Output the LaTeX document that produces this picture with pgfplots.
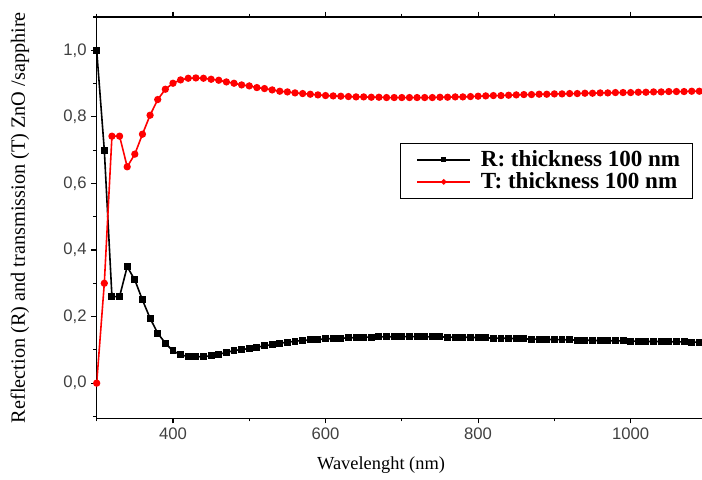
\documentclass[border=0pt]{standalone}
\usepackage{fontspec}
\setmainfont{Liberation Serif}
\setsansfont{Liberation Sans}
\usepackage{pgfplots}
\usepackage{pgfplotstable}
\pgfplotsset{compat=1.18}

% wavelength (nm), reflection R, transmission T
\pgfplotstableread{
lam R T
300 1.000 0.000
310 0.700 0.300
320 0.260 0.742
330 0.260 0.742
340 0.350 0.650
350 0.310 0.688
360 0.250 0.748
370 0.195 0.805
380 0.150 0.852
390 0.120 0.883
400 0.097 0.901
410 0.085 0.911
420 0.080 0.916
430 0.079 0.917
440 0.080 0.916
450 0.082 0.913
460 0.087 0.910
470 0.092 0.905
480 0.098 0.901
490 0.101 0.896
500 0.104 0.893
510 0.108 0.888
520 0.112 0.885
530 0.116 0.881
540 0.120 0.877
550 0.123 0.875
560 0.126 0.872
570 0.128 0.870
580 0.130 0.868
590 0.131 0.866
600 0.133 0.864
610 0.134 0.863
620 0.135 0.862
630 0.136 0.861
640 0.137 0.860
650 0.138 0.860
660 0.1385 0.859
670 0.139 0.859
680 0.1395 0.858
690 0.1395 0.858
700 0.140 0.858
710 0.140 0.858
720 0.140 0.858
730 0.1395 0.858
740 0.139 0.858
750 0.139 0.859
760 0.1385 0.859
770 0.138 0.860
780 0.138 0.860
790 0.1375 0.861
800 0.137 0.862
810 0.136 0.863
820 0.1355 0.864
830 0.135 0.864
840 0.1345 0.865
850 0.134 0.866
860 0.133 0.867
870 0.1325 0.867
880 0.132 0.868
890 0.1315 0.868
900 0.131 0.869
910 0.1305 0.869
920 0.130 0.870
930 0.1295 0.870
940 0.129 0.871
950 0.1285 0.871
960 0.128 0.872
970 0.1275 0.872
980 0.127 0.873
990 0.127 0.873
1000 0.1265 0.873
1010 0.126 0.874
1020 0.1255 0.874
1030 0.125 0.875
1040 0.125 0.875
1050 0.1245 0.876
1060 0.124 0.876
1070 0.124 0.876
1080 0.1235 0.877
1090 0.123 0.877
1100 0.123 0.877
}\spectra

\begin{document}
\begin{tikzpicture}
\begin{axis}[
  name=ax,
  scale only axis, width=457.6pt, height=300.75pt,
  xmin=300, xmax=1100, ymin=-0.105, ymax=1.1,
  xtick={400,600,800,1000}, minor xtick={300,500,700,900,1100},
  ytick={0,0.2,...,1.0}, minor ytick={-0.1,0.1,...,1.1},
  tick align=outside, tick pos=both,
  major tick length=4pt, minor tick length=2.5pt,
  axis line style={line width=0.9pt}, every tick/.style={black, line width=0.9pt},
  xticklabel style={/pgf/number format/1000 sep={}},
  yticklabel style={/pgf/number format/.cd, use comma, fixed, fixed zerofill, precision=1},
  /pgf/number format/assume math mode=true,
  ticklabel style={font=\sffamily\fontsize{12.5}{14}\selectfont, text=black!75},
  xticklabel pos=lower, yticklabel pos=left,
  xlabel={Wavelenght (nm)},
  ylabel={Reflection (R) and transmission (T) ZnO /sapphire},
  xlabel style={font=\fontsize{13.8}{16}\selectfont, at={(axis description cs:0.466,-0.117)}, anchor=center},
  ylabel style={font=\fontsize{15.2}{17}\selectfont, at={(axis description cs:-0.1257,0.5)}, anchor=center},
  legend style={at={(0.497,0.686)}, anchor=north west, draw=black, line width=0.8pt,
    font=\bfseries\fontsize{17.3}{20}\selectfont, inner xsep=7pt, inner ysep=3.5pt,
    row sep=-1pt},
  legend cell align=left,
  legend image code/.code={%
    \path (0cm,0cm) (1.76cm,0cm);
    \draw[mark repeat=2,mark phase=2, mark size=1.4pt] plot coordinates {(0.18cm,0cm) (0.87cm,0cm) (1.56cm,0cm)};},
]
\addplot[black, line width=1.2pt, mark=square*, mark size=2pt] table[x=lam, y=R] {\spectra};
\addlegendentry{R: thickness 100 nm}
\addplot[red, line width=1.2pt, mark=*, mark size=2.1pt] table[x=lam, y=T] {\spectra};
\addlegendentry{T: thickness 100 nm}
\coordinate (cutr) at (axis cs:1093.5,1.1);
\end{axis}
\pgfresetboundingbox
\path[use as bounding box] ([xshift=-72.5pt,yshift=-45.75pt]ax.south west) rectangle ([yshift=12.75pt]cutr);
\end{tikzpicture}
\end{document}
